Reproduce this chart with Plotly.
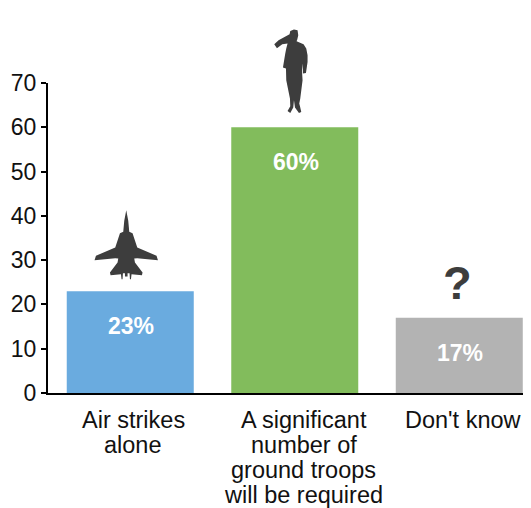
import plotly.graph_objects as go

category_lines = [["Air strikes", "alone"],
                  ["A significant", "number of", "ground troops", "will be required"],
                  ["Don't know"]]
values = [23, 60, 17]
labels = ["23%", "60%", "17%"]
colors = ["#6aabdf", "#82bc5c", "#b3b3b3"]
y_ticks = [0, 10, 20, 30, 40, 50, 60, 70]
Y_MAX = 70
FONT = "Liberation Sans, Arial, sans-serif"
ICON = "#3d3d3d"
LABEL_X_SHIFT = [3, 9, 4]

# Silhouette outlines, traced in px
jet_half = [(0, 33), (6, 65), (9, 98), (19, 102), (33, 145), (91, 170), (95, 183), (33, 177), (24, 178),
            (26, 190), (49, 220), (47, 228), (16, 225), (14, 240), (11, 240), (10, 222), (4, 222), (4, 232), (0, 232)]
soldier = [(120, 32), (131, 28), (142, 30), (144, 45), (141, 58), (139, 63), (160, 72), (168, 85), (172, 105),
           (172, 125), (167, 158), (158, 160), (157, 130), (155, 150), (157, 180), (150, 235), (147, 250), (150, 262),
           (153, 275), (146, 278), (134, 262), (131, 240), (129, 262), (120, 278), (112, 272), (120, 258), (119, 235),
           (108, 180), (107, 145), (98, 142), (105, 100), (108, 85), (112, 70), (96, 72), (80, 84), (72, 72),
           (85, 60), (118, 42)]


def path(points):
    return "M" + " L".join(f"{x:.1f},{y:.1f}" for x, y in points) + " Z"


jet = [(x, y) for x, y in jet_half] + [(-x, y) for x, y in reversed(jet_half)]
jet_px = [(x / 3 - 4, 92 - y / 3) for x, y in jet]
soldier_px = [(x / 3 - 44.5, 107 - y / 3) for x, y in soldier]


def icon(idx, pts):
    return dict(type="path", xref="x", yref="paper", xsizemode="pixel", ysizemode="pixel",
                xanchor=idx, yanchor=values[idx] / Y_MAX, path=path(pts),
                fillcolor=ICON, line=dict(width=0), layer="above")


x = list(range(len(values)))
fig = go.Figure(go.Bar(x=x, y=values, width=0.772, marker=dict(color=colors, line=dict(width=0)), hoverinfo="skip"))

annotations = [dict(x=i, y=v, text=l, showarrow=False, yshift=-35, xshift=1,
                    font=dict(family=FONT, size=23, color="white", weight="bold"))
               for i, v, l in zip(x, values, labels)]
annotations.append(dict(x=2, y=values[2], text="?", showarrow=False, yshift=35, xshift=-2,
                        font=dict(family=FONT, size=47, color=ICON, weight="bold")))
for i, lines in enumerate(category_lines):
    for n, line in enumerate(lines):
        annotations.append(dict(x=i, xref="x", y=0, yref="paper", yanchor="middle", text=line, showarrow=False,
                                xshift=LABEL_X_SHIFT[i], yshift=-(26.5 + 25 * n),
                                font=dict(family=FONT, size=23.5, color="#111111")))

fig.update_layout(
    width=523, height=500, autosize=False,
    margin=dict(l=40, r=0, t=75, b=115),
    plot_bgcolor="white", paper_bgcolor="white",
    showlegend=False,
    font=dict(family=FONT, size=23, color="#111111"),
    shapes=[icon(0, jet_px), icon(1, soldier_px)],
    annotations=annotations,
    xaxis=dict(range=[-0.5, 2.436], tickmode="array", tickvals=x, showticklabels=False,
               showgrid=False, zeroline=False, showline=True, linecolor="black", linewidth=2, ticks=""),
    yaxis=dict(range=[0, Y_MAX], tickmode="array", tickvals=y_ticks, showgrid=False, zeroline=False,
               showline=True, linecolor="black", linewidth=2, ticks="outside", ticklen=5, tickwidth=2,
               tickcolor="black", tickfont=dict(size=23)),
)
fig.write_html("out.html", config=dict(displayModeBar=False))
